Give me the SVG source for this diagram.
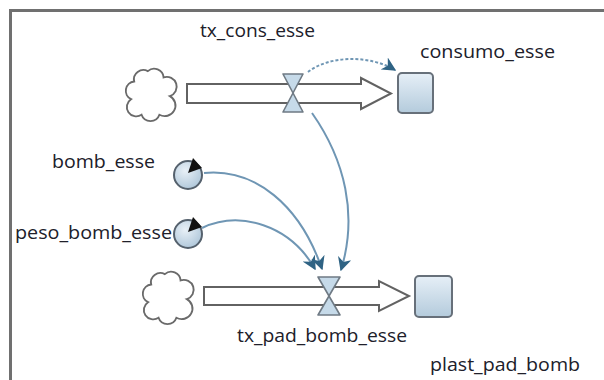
<svg xmlns="http://www.w3.org/2000/svg" width="604" height="380" viewBox="0 0 604 380">
<defs>
<linearGradient id="stockGrad" x1="0" y1="0" x2="0" y2="1">
<stop offset="0" stop-color="#e6eff7"/>
<stop offset="1" stop-color="#b4cbdc"/>
</linearGradient>
<radialGradient id="convGrad" cx="0.4" cy="0.35" r="0.7">
<stop offset="0" stop-color="#e8f0f7"/>
<stop offset="1" stop-color="#aec6d9"/>
</radialGradient>
<marker id="arrBig" viewBox="0 0 10 10" refX="9" refY="5" markerWidth="14" markerHeight="14" orient="auto" markerUnits="userSpaceOnUse">
<path d="M0,0 L10,5 L0,10 L3,5 Z" fill="#2f6384"/>
</marker>
<path id="cloudShape" d="M-16,-12 A9,9 0 0 1 -3,-22 A9,9 0 0 1 12,-16 A9,9 0 0 1 18,2 A9,9 0 0 1 8,20 A9,9 0 0 1 -9,20 A9,9 0 0 1 -19,5 A9,9 0 0 1 -16,-12 Z"/>
</defs>
<style>
.frame{stroke:#707070;stroke-width:3;fill:none}
.cloud{fill:#fff;stroke:#6a6a6a;stroke-width:1.8}
.pipe{fill:#fff;stroke:#626262;stroke-width:2;stroke-linejoin:miter}
.valve{fill:#c6dae9;stroke:#6f7a84;stroke-width:1.6;stroke-linejoin:round}
.stock{fill:url(#stockGrad);stroke:#67707a;stroke-width:2}
.conv{fill:url(#convGrad);stroke:#55616d;stroke-width:2}
.ptr{fill:#111}
.link{fill:none;stroke:#6f96b4;stroke-width:2}
.dashed{stroke-dasharray:3,2}
.lbl{font-family:"Open Sans","DejaVu Sans",sans-serif;font-size:18px;fill:#20202a}
</style>
<line class="frame" x1="9" y1="10.5" x2="604" y2="10.5"/>
<line class="frame" x1="10.5" y1="9" x2="10.5" y2="380"/>

<g id="connectors">
<path class="link dashed" d="M308,72 C330,55 370,55 395,70" marker-end="url(#arrBig)"/>
<path class="link" d="M312,113 C345,160 358,215 341,270" marker-end="url(#arrBig)"/>
<path class="link" d="M204,173 C255,168 300,205 322,269" marker-end="url(#arrBig)"/>
<path class="link" d="M202,228 C240,210 290,225 315,269" marker-end="url(#arrBig)"/>
</g>

<g id="cloud1"><use href="#cloudShape" class="cloud" transform="translate(151,94) scale(1.05,1.04)"/></g>
<g id="cloud2"><use href="#cloudShape" class="cloud" transform="translate(168,297) scale(1.05,1.04)"/></g>

<g id="flow_tx_cons_esse">
<polygon class="pipe" points="187,84 361,84 361,78 391,93.5 361,109 361,103 187,103"/>
<polygon class="valve" points="283,74 303,74 293,93"/>
<polygon class="valve" points="293,93 283,112 303,112"/>
<text class="lbl" x="200" y="37" textLength="115" lengthAdjust="spacingAndGlyphs">tx_cons_esse</text>
</g>

<g id="flow_tx_pad_bomb_esse">
<polygon class="pipe" points="204,287 379,287 379,281 409,296 379,311 379,305 204,305"/>
<polygon class="valve" points="318,277 340,277 329,296"/>
<polygon class="valve" points="329,296 318,315 340,315"/>
<text class="lbl" x="237" y="342" textLength="170" lengthAdjust="spacingAndGlyphs">tx_pad_bomb_esse</text>
</g>

<g id="consumo_esse">
<rect class="stock" x="398" y="73" width="35" height="40" rx="4"/>
<text class="lbl" x="420" y="58" textLength="135" lengthAdjust="spacingAndGlyphs">consumo_esse</text>
</g>

<g id="plast_pad_bomb">
<rect class="stock" x="415" y="276" width="37" height="41" rx="4"/>
<text class="lbl" x="430" y="371" textLength="150" lengthAdjust="spacingAndGlyphs">plast_pad_bomb</text>
</g>

<g id="bomb_esse">
<circle class="conv" cx="188" cy="175" r="14"/>
<polygon class="ptr" points="188,173 193,158 202,168"/>
<text class="lbl" x="52" y="168" textLength="103" lengthAdjust="spacingAndGlyphs">bomb_esse</text>
</g>

<g id="peso_bomb_esse">
<circle class="conv" cx="188" cy="234" r="14"/>
<polygon class="ptr" points="188,232 193,217 202,227"/>
<text class="lbl" x="15" y="239" textLength="157" lengthAdjust="spacingAndGlyphs">peso_bomb_esse</text>
</g>
</svg>
